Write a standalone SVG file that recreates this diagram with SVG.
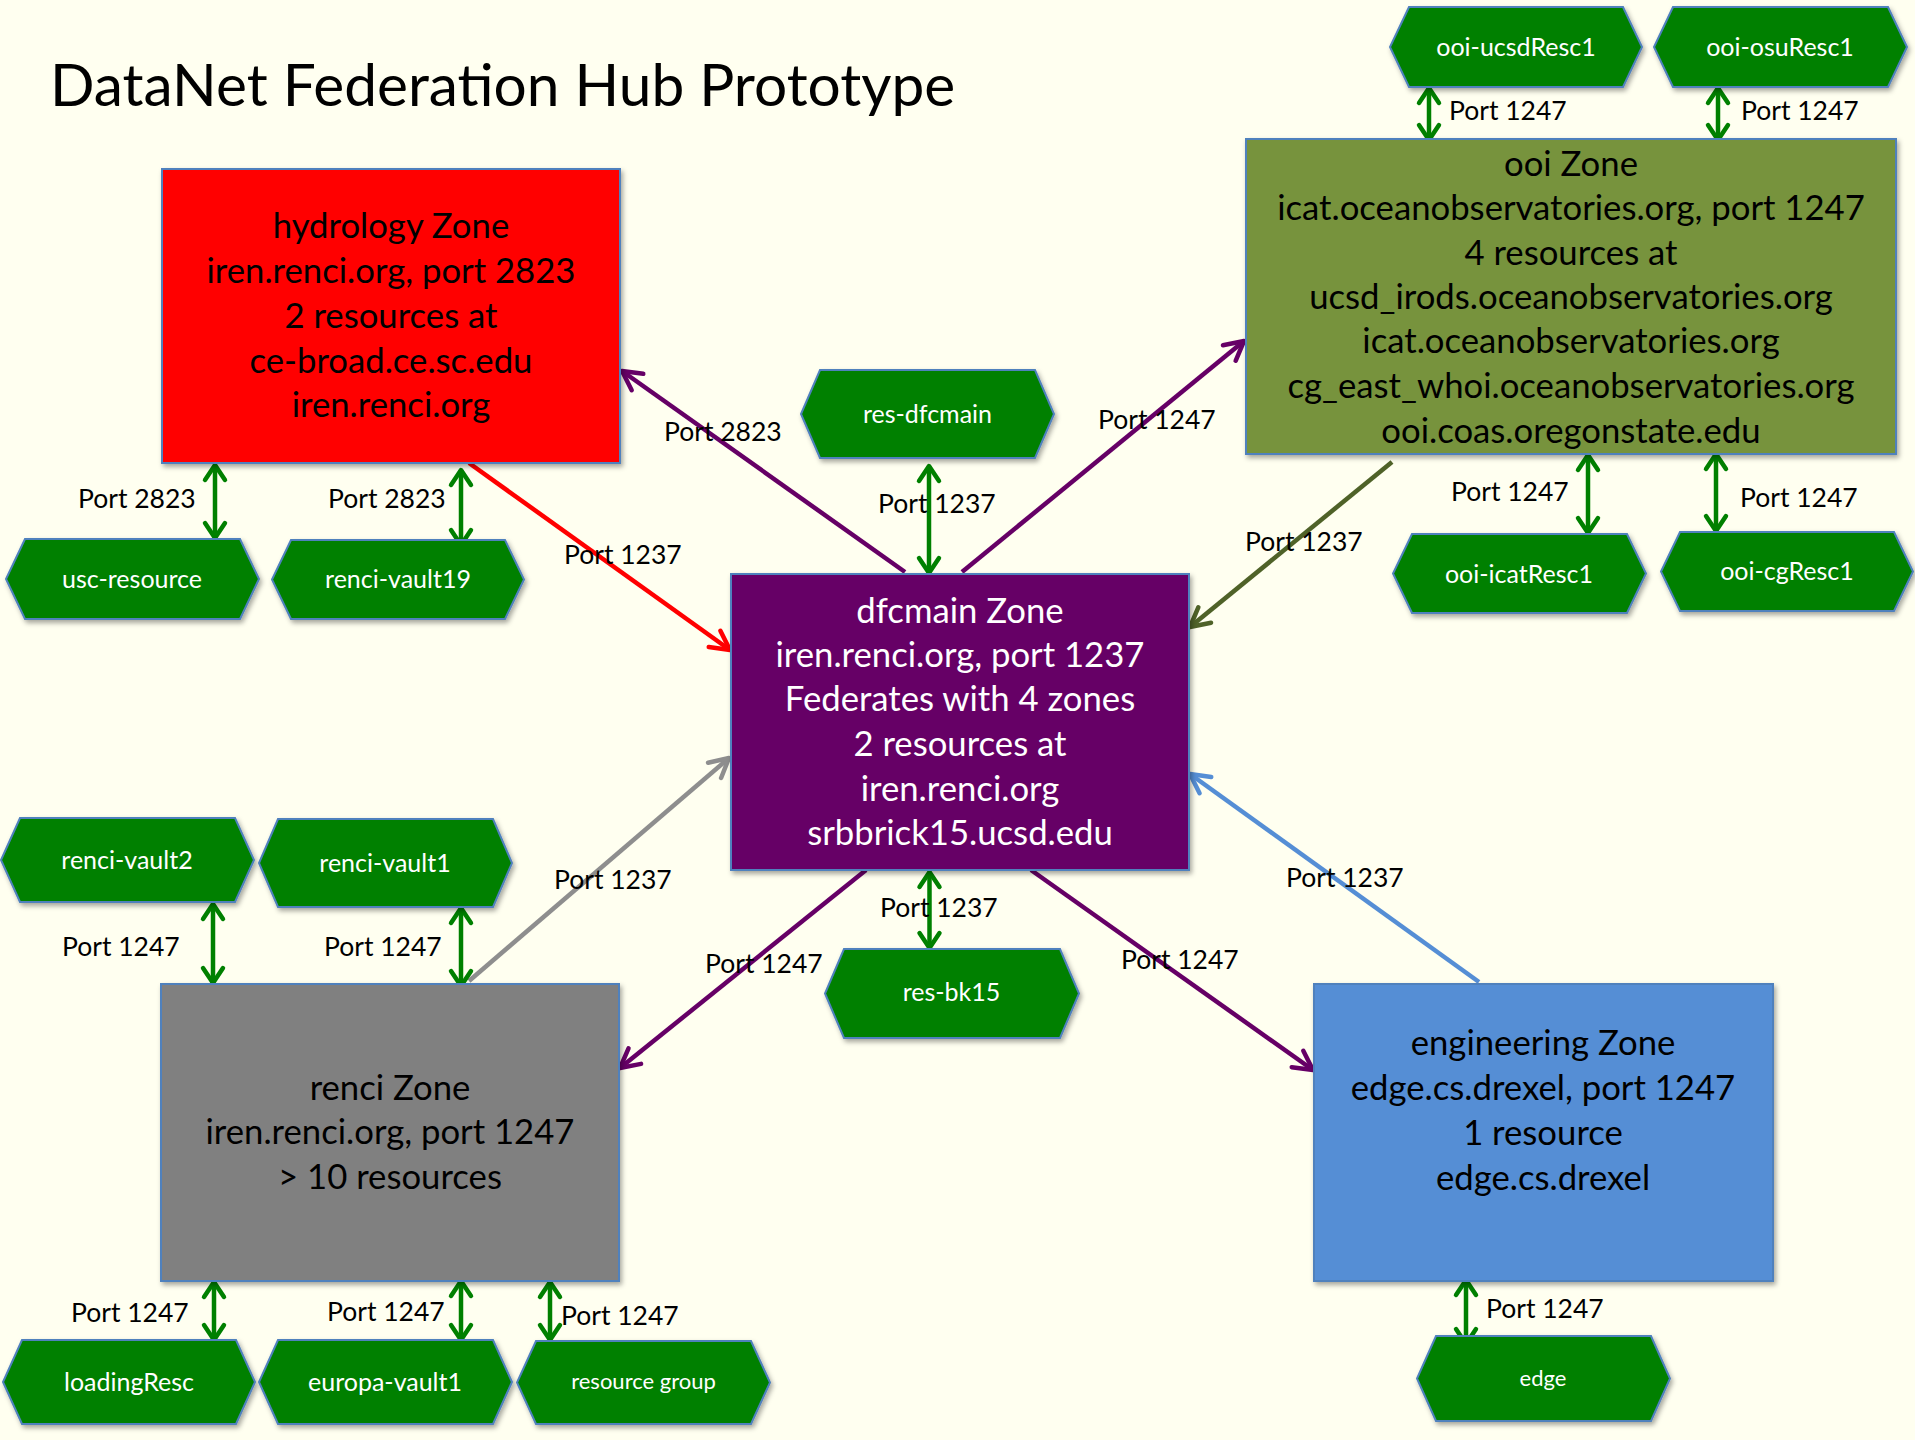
<svg xmlns="http://www.w3.org/2000/svg" width="1915" height="1440" viewBox="0 0 1915 1440">
<defs>
<style>
.zone{stroke:#4F81BD;stroke-width:2;filter:url(#sh)}
.hex{fill:#008000;stroke:#4F81BD;stroke-width:2;filter:url(#sh)}
.zt{font-family:Lato,"Liberation Sans",sans-serif;font-size:34.7px;text-anchor:middle;fill:#000}
.zw{fill:#fff}
.ht{font-family:Lato,"Liberation Sans",sans-serif;font-size:25px;text-anchor:middle;fill:#fff}
.hs{font-size:22px}
.pl{font-family:Lato,"Liberation Sans",sans-serif;font-size:26.5px;fill:#000}
.title{font-family:Lato,"Liberation Sans",sans-serif;font-size:58.6px;fill:#000}
.c{fill:none;stroke-width:4.5}
.g{stroke:#008000;marker-start:url(#ag);marker-end:url(#ag)}
</style>
<filter id="sh" x="-10%" y="-10%" width="125%" height="130%">
<feDropShadow dx="2" dy="3" stdDeviation="2.5" flood-color="#000" flood-opacity="0.35"/>
</filter>
<marker id="ag" markerUnits="userSpaceOnUse" viewBox="-22 -14 26 28" refX="0" refY="0" markerWidth="26" markerHeight="28" orient="auto-start-reverse" overflow="visible">
<path d="M-15,-10 L0,0 L-15,10" fill="none" stroke="#008000" stroke-width="4.5" stroke-linecap="round" stroke-linejoin="round"/>
</marker>
<marker id="ap" markerUnits="userSpaceOnUse" viewBox="-24 -14 28 28" refX="0" refY="0" markerWidth="28" markerHeight="28" orient="auto" overflow="visible">
<path d="M-19,-10 L0,0 L-19,10" fill="none" stroke="#660066" stroke-width="4.5" stroke-linecap="round" stroke-linejoin="round"/>
</marker>
<marker id="ar" markerUnits="userSpaceOnUse" viewBox="-24 -14 28 28" refX="0" refY="0" markerWidth="28" markerHeight="28" orient="auto" overflow="visible">
<path d="M-19,-10 L0,0 L-19,10" fill="none" stroke="#FF0000" stroke-width="4.5" stroke-linecap="round" stroke-linejoin="round"/>
</marker>
<marker id="ao" markerUnits="userSpaceOnUse" viewBox="-24 -14 28 28" refX="0" refY="0" markerWidth="28" markerHeight="28" orient="auto" overflow="visible">
<path d="M-19,-10 L0,0 L-19,10" fill="none" stroke="#4F6228" stroke-width="4.5" stroke-linecap="round" stroke-linejoin="round"/>
</marker>
<marker id="agr" markerUnits="userSpaceOnUse" viewBox="-24 -14 28 28" refX="0" refY="0" markerWidth="28" markerHeight="28" orient="auto" overflow="visible">
<path d="M-19,-10 L0,0 L-19,10" fill="none" stroke="#8E8E8E" stroke-width="4.5" stroke-linecap="round" stroke-linejoin="round"/>
</marker>
<marker id="ab" markerUnits="userSpaceOnUse" viewBox="-24 -14 28 28" refX="0" refY="0" markerWidth="28" markerHeight="28" orient="auto" overflow="visible">
<path d="M-19,-10 L0,0 L-19,10" fill="none" stroke="#558ED5" stroke-width="4.5" stroke-linecap="round" stroke-linejoin="round"/>
</marker>
</defs>
<rect x="0" y="0" width="1915" height="1440" fill="#FFFFF0"/>
<text class="title" x="50" y="106">DataNet Federation Hub Prototype</text>

<g id="connectors">
<line class="c" x1="905" y1="572" x2="622" y2="371" stroke="#660066" marker-end="url(#ap)"/>
<line class="c" x1="962" y1="572" x2="1244" y2="341" stroke="#660066" marker-end="url(#ap)"/>
<line class="c" x1="866" y1="870" x2="620" y2="1068" stroke="#660066" marker-end="url(#ap)"/>
<line class="c" x1="1031" y1="870" x2="1313" y2="1070" stroke="#660066" marker-end="url(#ap)"/>
<line class="c" x1="469" y1="463" x2="730" y2="650" stroke="#FF0000" marker-end="url(#ar)"/>
<line class="c" x1="1392" y1="462" x2="1190" y2="627" stroke="#4F6228" marker-end="url(#ao)"/>
<line class="c" x1="469" y1="981" x2="729" y2="758" stroke="#8E8E8E" marker-end="url(#agr)"/>
<line class="c" x1="1479" y1="982" x2="1190" y2="774" stroke="#558ED5" marker-end="url(#ab)"/>
<line class="c g" x1="215" y1="465" x2="215" y2="538"/>
<line class="c g" x1="461" y1="470" x2="461" y2="545"/>
<line class="c g" x1="1429" y1="88" x2="1429" y2="140"/>
<line class="c g" x1="1718" y1="88" x2="1718" y2="140"/>
<line class="c g" x1="1588" y1="455" x2="1588" y2="533"/>
<line class="c g" x1="1716" y1="454" x2="1716" y2="531"/>
<line class="c g" x1="929" y1="466" x2="929" y2="573"/>
<line class="c g" x1="929.5" y1="872" x2="929.5" y2="948"/>
<line class="c g" x1="213" y1="904" x2="213" y2="983"/>
<line class="c g" x1="461" y1="908" x2="461" y2="986"/>
<line class="c g" x1="214" y1="1282" x2="214" y2="1340"/>
<line class="c g" x1="461" y1="1281" x2="461" y2="1340"/>
<line class="c g" x1="550" y1="1282" x2="550" y2="1340"/>
<line class="c g" x1="1466" y1="1280" x2="1466" y2="1344"/>
</g>

<g id="port-labels">
<text class="pl" x="78" y="508">Port 2823</text>
<text class="pl" x="328" y="508">Port 2823</text>
<text class="pl" x="664" y="441">Port 2823</text>
<text class="pl" x="564" y="564">Port 1237</text>
<text class="pl" x="878" y="513">Port 1237</text>
<text class="pl" x="1098" y="429">Port 1247</text>
<text class="pl" x="1449" y="120">Port 1247</text>
<text class="pl" x="1741" y="120">Port 1247</text>
<text class="pl" x="1451" y="501">Port 1247</text>
<text class="pl" x="1740" y="507">Port 1247</text>
<text class="pl" x="1245" y="551">Port 1237</text>
<text class="pl" x="554" y="889">Port 1237</text>
<text class="pl" x="62" y="956">Port 1247</text>
<text class="pl" x="324" y="956">Port 1247</text>
<text class="pl" x="880" y="917">Port 1237</text>
<text class="pl" x="705" y="973">Port 1247</text>
<text class="pl" x="1121" y="969">Port 1247</text>
<text class="pl" x="1286" y="887">Port 1237</text>
<text class="pl" x="71" y="1322">Port 1247</text>
<text class="pl" x="327" y="1321">Port 1247</text>
<text class="pl" x="561" y="1325">Port 1247</text>
<text class="pl" x="1486" y="1318">Port 1247</text>
</g>

<g id="hydrology-zone">
<rect class="zone" x="162" y="169" width="458" height="294" fill="#FF0000"/>
<text class="zt" x="391" y="238">hydrology Zone</text>
<text class="zt" x="391" y="283">iren.renci.org, port 2823</text>
<text class="zt" x="391" y="328">2 resources at</text>
<text class="zt" x="391" y="373">ce-broad.ce.sc.edu</text>
<text class="zt" x="391" y="417">iren.renci.org</text>
</g>
<g id="ooi-zone">
<rect class="zone" x="1246" y="139" width="650" height="315" fill="#77933C"/>
<text class="zt" x="1571" y="176">ooi Zone</text>
<text class="zt" x="1571" y="220">icat.oceanobservatories.org, port 1247</text>
<text class="zt" x="1571" y="265">4 resources at</text>
<text class="zt" x="1571" y="309">ucsd_irods.oceanobservatories.org</text>
<text class="zt" x="1571" y="353">icat.oceanobservatories.org</text>
<text class="zt" x="1571" y="398">cg_east_whoi.oceanobservatories.org</text>
<text class="zt" x="1571" y="443">ooi.coas.oregonstate.edu</text>
</g>
<g id="dfcmain-zone">
<rect class="zone" x="731" y="574" width="458" height="296" fill="#660066"/>
<text class="zt zw" x="960" y="623">dfcmain Zone</text>
<text class="zt zw" x="960" y="667">iren.renci.org, port 1237</text>
<text class="zt zw" x="960" y="711">Federates with 4 zones</text>
<text class="zt zw" x="960" y="756">2 resources at</text>
<text class="zt zw" x="960" y="801">iren.renci.org</text>
<text class="zt zw" x="960" y="845">srbbrick15.ucsd.edu</text>
</g>
<g id="renci-zone">
<rect class="zone" x="161" y="984" width="458" height="297" fill="#808080"/>
<text class="zt" x="390" y="1100">renci Zone</text>
<text class="zt" x="390" y="1144">iren.renci.org, port 1247</text>
<text class="zt" x="390" y="1189">&gt; 10 resources</text>
</g>
<g id="engineering-zone">
<rect class="zone" x="1314" y="984" width="459" height="297" fill="#558ED5"/>
<text class="zt" x="1543" y="1055">engineering Zone</text>
<text class="zt" x="1543" y="1100">edge.cs.drexel, port 1247</text>
<text class="zt" x="1543" y="1145">1 resource</text>
<text class="zt" x="1543" y="1190">edge.cs.drexel</text>
</g>

<g id="ooi-ucsdResc1">
<polygon class="hex" points="1409,7 1623,7 1642,47 1623,87 1409,87 1390,47"/>
<text class="ht" x="1516" y="56">ooi-ucsdResc1</text>
</g>
<g id="ooi-osuResc1">
<polygon class="hex" points="1673,7 1888,7 1907,47 1888,87 1673,87 1654,47"/>
<text class="ht" x="1780" y="56">ooi-osuResc1</text>
</g>
<g id="ooi-icatResc1">
<polygon class="hex" points="1412,534 1627,534 1646,573.5 1627,613 1412,613 1393,573.5"/>
<text class="ht" x="1519" y="583">ooi-icatResc1</text>
</g>
<g id="ooi-cgResc1">
<polygon class="hex" points="1680,532 1894,532 1913,571.5 1894,611 1680,611 1661,571.5"/>
<text class="ht" x="1787" y="580">ooi-cgResc1</text>
</g>
<g id="res-dfcmain">
<polygon class="hex" points="820,370 1035,370 1054,414 1035,458 820,458 801,414"/>
<text class="ht" x="927.5" y="423">res-dfcmain</text>
</g>
<g id="usc-resource">
<polygon class="hex" points="25,539 240,539 259,579 240,619 25,619 6,579"/>
<text class="ht" x="132" y="588">usc-resource</text>
</g>
<g id="renci-vault19">
<polygon class="hex" points="291,540 505,540 524,579.5 505,619 291,619 272,579.5"/>
<text class="ht" x="398" y="588">renci-vault19</text>
</g>
<g id="renci-vault2">
<polygon class="hex" points="20,818 235,818 254,860 235,902 20,902 1,860"/>
<text class="ht" x="127" y="869">renci-vault2</text>
</g>
<g id="renci-vault1">
<polygon class="hex" points="278,819 493,819 512,863 493,907 278,907 259,863"/>
<text class="ht" x="385" y="872">renci-vault1</text>
</g>
<g id="res-bk15">
<polygon class="hex" points="844,949 1060,949 1079,993.5 1060,1038 844,1038 825,993.5"/>
<text class="ht" x="951.5" y="1001">res-bk15</text>
</g>
<g id="loadingResc">
<polygon class="hex" points="22,1340 236,1340 255,1382 236,1424 22,1424 3,1382"/>
<text class="ht" x="129" y="1391">loadingResc</text>
</g>
<g id="europa-vault1">
<polygon class="hex" points="278,1340 493,1340 512,1382 493,1424 278,1424 259,1382"/>
<text class="ht" x="385" y="1391">europa-vault1</text>
</g>
<g id="resource-group">
<polygon class="hex" points="536,1341 751,1341 770,1382.5 751,1424 536,1424 517,1382.5"/>
<text class="ht hs" x="643.5" y="1389">resource group</text>
</g>
<g id="edge">
<polygon class="hex" points="1436,1336 1651,1336 1670,1378.5 1651,1421 1436,1421 1417,1378.5"/>
<text class="ht hs" x="1543" y="1386">edge</text>
</g>
</svg>
